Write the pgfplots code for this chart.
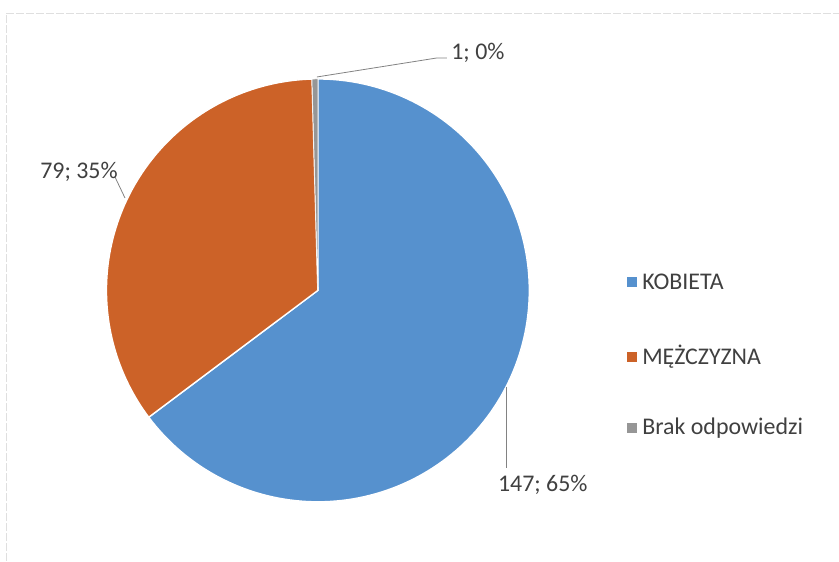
\documentclass[border=0pt]{standalone}
\usepackage{pgfplots}
\pgfplotsset{compat=1.18}
\usepackage{fontspec}
\setmainfont{Carlito}
\definecolor{cK}{RGB}{86,145,206}
\definecolor{cM}{RGB}{204,98,40}
\definecolor{cB}{RGB}{150,150,150}
\definecolor{txt}{RGB}{64,64,64}
\definecolor{lead}{RGB}{130,130,130}
\begin{document}
\begin{tikzpicture}
% data: KOBIETA, MĘŻCZYZNA, Brak odpowiedzi
\pgfmathsetmacro{\vK}{147}
\pgfmathsetmacro{\vM}{79}
\pgfmathsetmacro{\vB}{1}
\pgfmathsetmacro{\tot}{\vK+\vM+\vB}
\pgfmathsetmacro{\aA}{90}
\pgfmathsetmacro{\aB}{90-360*(\vK/\tot)}
\pgfmathsetmacro{\aC}{\aB-360*(\vM/\tot)}
\pgfmathsetmacro{\aD}{\aC-360*(\vB/\tot)}
\def\cx{318}
\def\cy{270.5}
\def\pr{211.5}
\begin{axis}[scale only axis, width=839bp, height=561bp,
  xmin=0, xmax=839, ymin=0, ymax=561, hide axis, clip=false]
\path (axis cs:0,0) rectangle (axis cs:839,561);
\draw[gray!25, line width=0.6pt, dash pattern=on 8pt off 2pt] (axis cs:6,0) -- (axis cs:6,548) -- (axis cs:839,548);
\addplot[fill=cK, draw=white, line width=1.4pt, domain=\aB:\aA, samples=150, variable=\t]
  ({\cx+\pr*cos(t)},{\cy+\pr*sin(t)}) -- (axis cs:\cx,\cy) -- cycle;
\addplot[fill=cM, draw=white, line width=1.4pt, domain=\aC:\aB, samples=100, variable=\t]
  ({\cx+\pr*cos(t)},{\cy+\pr*sin(t)}) -- (axis cs:\cx,\cy) -- cycle;
\addplot[fill=cB, draw=white, line width=0.5pt, domain=\aD:\aC, samples=5, variable=\t]
  ({\cx+\pr*cos(t)},{\cy+\pr*sin(t)}) -- (axis cs:\cx,\cy) -- cycle;
% leader lines
\draw[lead, line width=0.8pt] (axis cs:317,484) -- (axis cs:437,503) -- (axis cs:447,503);
\draw[lead, line width=0.8pt] (axis cs:115,384) -- (axis cs:125,363);
\draw[lead, line width=0.8pt] (axis cs:507,174) -- (axis cs:507,93);
% data labels
\node[anchor=west, text=txt, font=\fontsize{24}{28}\selectfont] at (axis cs:448,508) {1; 0\%};
\node[text=txt, font=\fontsize{24}{28}\selectfont] at (axis cs:79,389) {79; 35\%};
\node[text=txt, font=\fontsize{24}{28}\selectfont] at (axis cs:543,76) {147; 65\%};
% legend
\addplot[only marks, mark=square*, mark size=4.5pt, cK] coordinates {(631.5,279)};
\addplot[only marks, mark=square*, mark size=4.5pt, cM] coordinates {(631.5,204)};
\addplot[only marks, mark=square*, mark size=4.5pt, cB] coordinates {(631.5,133)};
\node[anchor=west, text=txt, font=\fontsize{24}{28}\selectfont] at (axis cs:639,279) {KOBIETA};
\node[anchor=west, text=txt, font=\fontsize{24}{28}\selectfont] at (axis cs:639,204) {MĘŻCZYZNA};
\node[anchor=west, text=txt, font=\fontsize{24}{28}\selectfont] at (axis cs:639,133) {Brak odpowiedzi};
\end{axis}
\end{tikzpicture}
\end{document}
